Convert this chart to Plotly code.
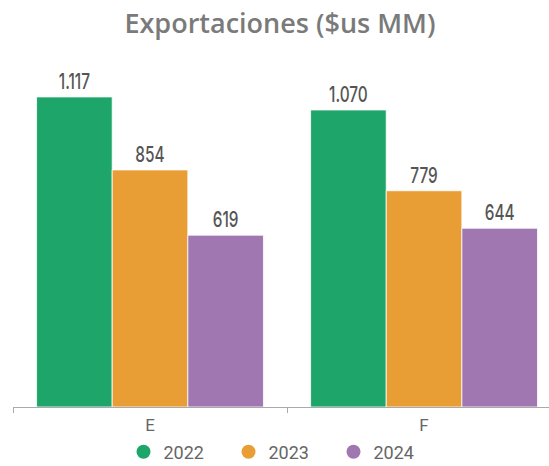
import plotly.graph_objects as go

categories = ["E", "F"]
years = ["2022", "2023", "2024"]
values_2022 = [1117, 1070]
values_2023 = [854, 779]
values_2024 = [619, 644]
colors = ["#1EA66A", "#E89D35", "#A177B2"]

series = [values_2022, values_2023, values_2024]

fig = go.Figure()
for name, vals, col in zip(years, series, colors):
    fig.add_trace(go.Bar(
        x=categories, y=vals, name=name, showlegend=False,
        marker=dict(color=col, line=dict(color="rgba(255,255,255,0.8)", width=1)),
        texttemplate="%{y:,.0f}", textposition="outside", cliponaxis=False,
        textfont=dict(family="Inter", size=22, color="#555555", weight=500),
    ))
for name, col in zip(years, colors):
    fig.add_trace(go.Scatter(
        x=[None], y=[None], mode="markers", name=name,
        marker=dict(symbol="circle", size=14, color=col),
    ))

fig.update_layout(
    width=549, height=466,
    margin=dict(l=13, r=0, t=60, b=59, autoexpand=False),
    paper_bgcolor="white", plot_bgcolor="white",
    separators=",.",
    barmode="group", bargap=0.172, bargroupgap=0,
    title=dict(text="Exportaciones ($us MM)", x=0.51, xanchor="center", y=0.95, yanchor="middle",
               font=dict(family="Open Sans", size=27, color="#7a7a7a", weight=600)),
    xaxis=dict(range=[-0.5, 1.456], showline=True, linecolor="#aaaaaa", linewidth=1,
               ticks="outside", tickson="boundaries", ticklen=5, tickcolor="#aaaaaa",
               ticklabelstandoff=3, automargin=False,
               tickfont=dict(family="Roboto", size=17, color="#666666"), showgrid=False),
    yaxis=dict(range=[0, 1250], visible=False, showgrid=False, zeroline=False, automargin=False),
    legend=dict(orientation="h", x=0.5, xanchor="center", y=-0.13, yanchor="middle",
                font=dict(family="Roboto", size=18, color="#666666"),
                itemsizing="trace", itemwidth=30, entrywidth=60, entrywidthmode="pixels",
                tracegroupgap=0),
    font=dict(family="Roboto"),
)

post = """
document.body.style.margin='0';document.body.style.overflow='hidden';
document.querySelectorAll('text.bartext').forEach(function(t){
  var x = parseFloat(t.getAttribute('x')) || 0;
  var tr = t.getAttribute('transform') || '';
  t.setAttribute('transform', tr + ' translate(' + x + ',0) scale(0.7,1) translate(' + (-x) + ',0)');
});
"""

fig.write_html("out.html", post_script=post, config={"displayModeBar": False})
